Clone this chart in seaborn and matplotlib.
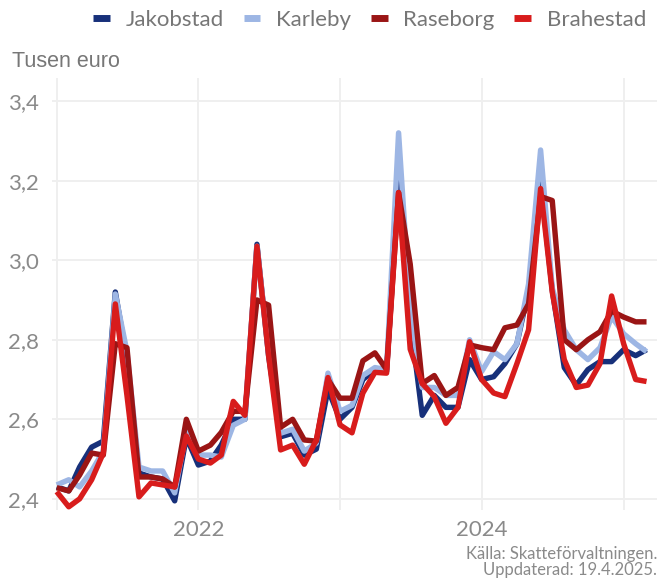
import matplotlib
matplotlib.use("Agg")
import matplotlib.pyplot as plt
import seaborn as sns
import pandas as pd
import numpy as np
from matplotlib.lines import Line2D

# ---- data ----
months = pd.date_range("2021-01-01", periods=51, freq="MS")

jakobstad = [2.43, 2.42, 2.48, 2.53, 2.545, 2.92, 2.75, 2.465, 2.455, 2.45, 2.395, 2.555,
             2.485, 2.495, 2.535, 2.60, 2.60, 3.04, 2.76, 2.556, 2.565, 2.51, 2.525, 2.675,
             2.60, 2.63, 2.70, 2.725, 2.72, 3.20, 2.85, 2.61, 2.66, 2.63, 2.63, 2.75,
             2.70, 2.707, 2.74, 2.79, 2.925, 3.20, 2.925, 2.73, 2.686, 2.725, 2.745, 2.745,
             2.775, 2.76, 2.775]
karleby = [2.435, 2.448, 2.43, 2.47, 2.52, 2.915, 2.77, 2.48, 2.47, 2.47, 2.415, 2.57,
           2.51, 2.51, 2.505, 2.585, 2.60, 3.035, 2.77, 2.565, 2.575, 2.52, 2.54, 2.716,
           2.62, 2.635, 2.71, 2.73, 2.725, 3.32, 2.87, 2.68, 2.68, 2.66, 2.66, 2.80,
           2.72, 2.77, 2.75, 2.79, 2.94, 3.277, 2.93, 2.825, 2.775, 2.75, 2.78, 2.858,
           2.815, 2.79, 2.77]
raseborg = [2.428, 2.42, 2.46, 2.515, 2.51, 2.79, 2.78, 2.455, 2.455, 2.45, 2.43, 2.60,
            2.52, 2.535, 2.567, 2.62, 2.62, 2.90, 2.887, 2.58, 2.60, 2.548, 2.545, 2.70,
            2.653, 2.653, 2.747, 2.767, 2.725, 3.17, 2.99, 2.69, 2.71, 2.66, 2.68, 2.787,
            2.78, 2.775, 2.83, 2.837, 2.89, 3.16, 3.15, 2.80, 2.775, 2.80, 2.82, 2.872,
            2.857, 2.845, 2.845]
brahestad = [2.418, 2.38, 2.40, 2.448, 2.515, 2.89, 2.66, 2.405, 2.44, 2.435, 2.43, 2.558,
             2.50, 2.49, 2.51, 2.645, 2.61, 3.035, 2.76, 2.523, 2.535, 2.487, 2.548, 2.705,
             2.586, 2.566, 2.666, 2.718, 2.716, 3.17, 2.776, 2.69, 2.657, 2.59, 2.63, 2.795,
             2.70, 2.666, 2.657, 2.74, 2.825, 3.18, 2.92, 2.75, 2.68, 2.686, 2.74, 2.91,
             2.79, 2.70, 2.695]

names = ["Jakobstad", "Karleby", "Raseborg", "Brahestad"]
colors = ["#17307a", "#9db6e4", "#9a1515", "#d81c1c"]
yticks = [2.4, 2.6, 2.8, 3.0, 3.2, 3.4]
ytick_labels = ["2,4", "2,6", "2,8", "3,0", "3,2", "3,4"]
xtick_major = pd.to_datetime(["2022-01-01", "2024-01-01"])
xtick_major_labels = ["2022", "2024"]
xtick_minor = pd.to_datetime(["2021-01-01", "2023-01-01", "2025-01-01"])

df = pd.DataFrame({
    "month": np.tile(months, 4),
    "value": jakobstad + karleby + raseborg + brahestad,
    "kommun": np.repeat(names, len(months)),
})

# ---- plot ----
sns.set_style("white")
plt.rcParams["font.family"] = ["Lato", "DejaVu Sans"]
plt.rcParams["font.weight"] = "normal"

fig = plt.figure(figsize=(6.66, 5.79), dpi=100)
ax = fig.add_axes([0.0776, 0.1192, 0.9089, 0.7461])

sns.lineplot(data=df, x="month", y="value", hue="kommun", hue_order=names,
             palette=colors, linewidth=3.9, ax=ax, legend=False,
             solid_joinstyle="round", solid_capstyle="butt")

ax.set_xlim(pd.Timestamp("2020-12-19"), pd.Timestamp("2025-03-28"))
ax.set_ylim(2.372, 3.458)
ax.set_yticks(yticks)
ax.set_yticklabels(ytick_labels)
ax.set_xticks(xtick_major)
ax.set_xticklabels(xtick_major_labels)
ax.set_xticks(xtick_minor, minor=True)
ax.grid(True, which="both", color="#efefef", linewidth=1.4)
ax.set_axisbelow(True)
for s in ax.spines.values():
    s.set_visible(False)
ax.tick_params(axis="both", which="both", length=0)
ax.tick_params(axis="y", pad=9, labelsize=16, labelcolor="#8a8a8a")
ax.tick_params(axis="x", pad=7, labelsize=16, labelcolor="#8a8a8a")
ax.set_xlabel("")
ax.set_ylabel("")

fig.text(0.018, 0.893, "Tusen euro", fontsize=15.5, color="#777777",
         family=["Liberation Sans", "DejaVu Sans"], weight="normal",
         va="center", ha="left")

handles = [Line2D([0], [0], color=c, linewidth=5.0, solid_capstyle="butt") for c in colors]
leg = fig.legend(handles, names, loc="center", bbox_to_anchor=(0.555, 0.965), ncol=4,
                 frameon=False, handlelength=0.75, handletextpad=0.7, columnspacing=0.9,
                 fontsize=16)
for t in leg.get_texts():
    t.set_color("#767676")

fig.text(0.987, 0.0285, "Källa: Skatteförvaltningen.\nUppdaterad: 19.4.2025.",
         ha="right", va="center", fontsize=12, color="#8a8a8a", linespacing=1.0)

fig.savefig("out.png", dpi=100)
